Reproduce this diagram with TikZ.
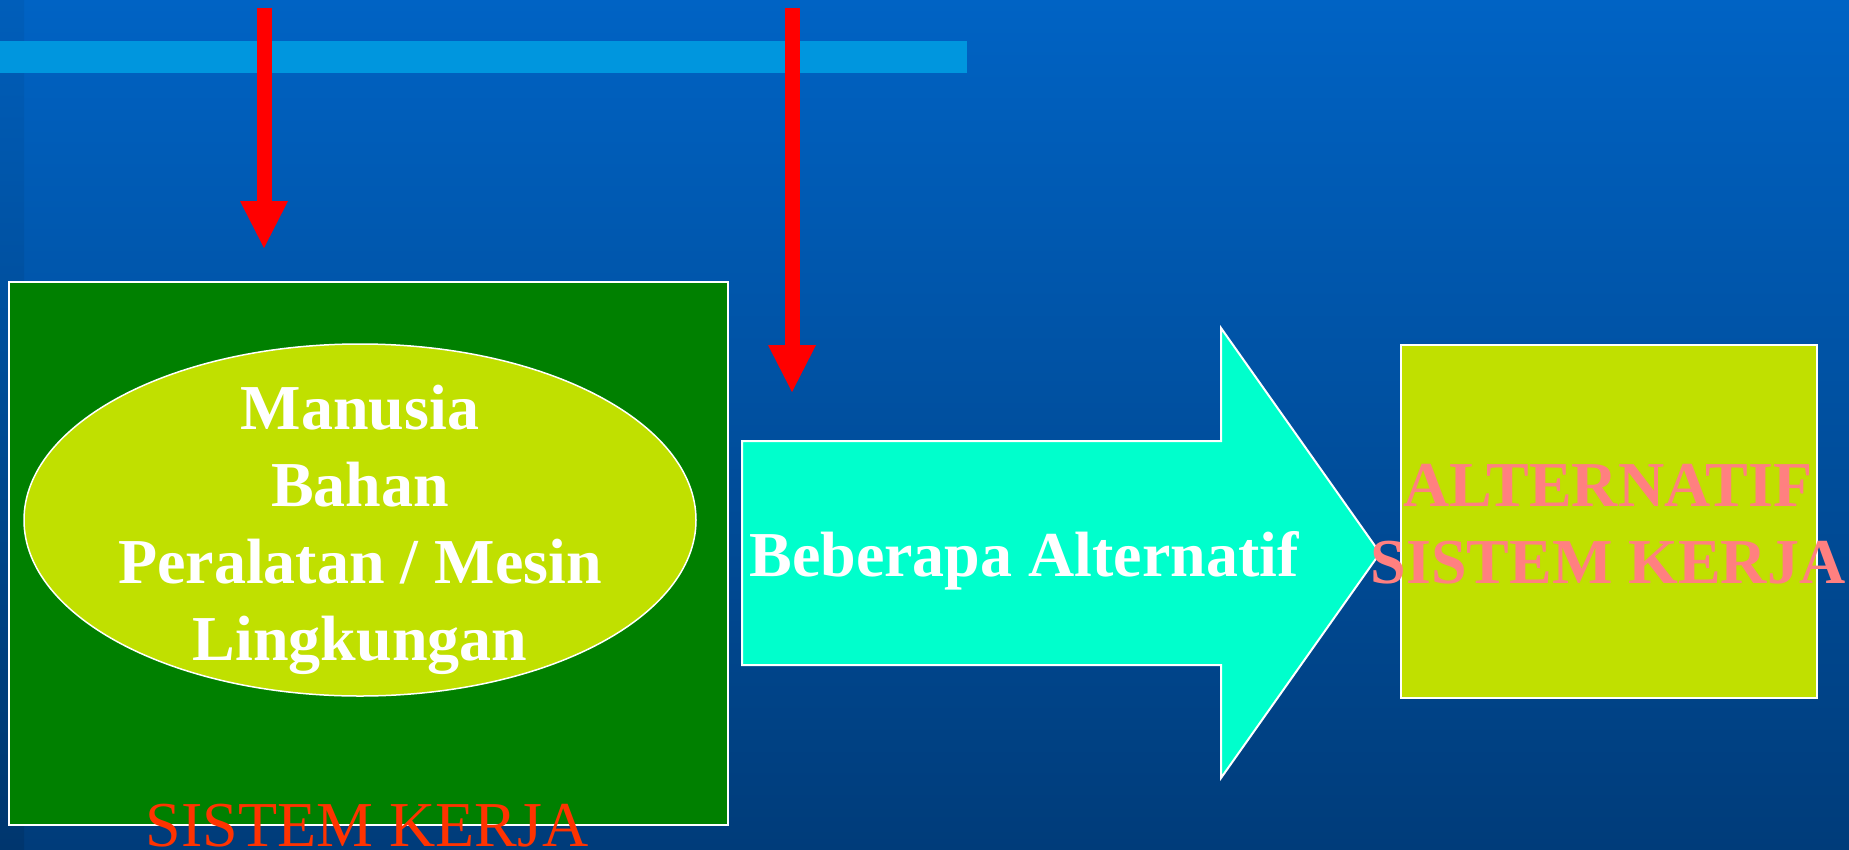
\documentclass[tikz,border=0pt]{standalone}
\usepackage{fontspec}
\setmainfont{Liberation Serif}
\usetikzlibrary{arrows.meta,shapes.geometric}
\definecolor{bgtop}{RGB}{0,99,196}
\definecolor{bgbot}{RGB}{0,60,122}
\definecolor{stripetop}{RGB}{0,94,186}
\definecolor{stripebot}{RGB}{0,54,110}
\definecolor{bandblue}{RGB}{0,150,222}
\definecolor{sysgreen}{RGB}{0,128,0}
\definecolor{limefill}{RGB}{192,224,0}
\definecolor{cyanfill}{RGB}{0,255,204}
\definecolor{pinktext}{RGB}{255,128,128}
\definecolor{redtext}{RGB}{255,51,0}
\definecolor{arrowred}{RGB}{255,0,0}
\tikzset{
  bigfont/.style={font=\fontsize{64}{77}\selectfont\bfseries},
  plainfont/.style={font=\fontsize{64}{77}\selectfont},
  whiteedge/.style={draw=white, line width=2pt},
  redarrow/.style={draw=arrowred, line width=15pt,
    -{Triangle[width=48pt,length=47pt,line width=0pt]}},
}
\begin{document}
\begin{tikzpicture}[x=1pt,y=-1pt]
\useasboundingbox (0,0) rectangle (1849,849);
% background
\shade[top color=bgtop,bottom color=bgbot] (0,0) rectangle (1849,849);
\shade[top color=stripetop,bottom color=stripebot] (0,0) rectangle (24,849);
\fill[bandblue] (0,41) rectangle (967,73);

% left system box
\node[whiteedge, fill=sysgreen, minimum width=719pt, minimum height=543pt,
  inner sep=0pt, anchor=north west] (sys) at (8,281) {};
\node[ellipse, draw=white, line width=1.5pt, fill=limefill,
  minimum width=672pt, minimum height=352pt, inner sep=0pt] (elem) at (360,520) {};
\node[bigfont, text=white, align=center, inner sep=0pt] (elemtext) at (360,530)
  {Manusia\\Bahan\\Peralatan / Mesin\\Lingkungan};
\node[plainfont, text=redtext, anchor=base, inner sep=0pt] (syslabel) at (367,846) {SISTEM KERJA};

% big cyan arrow
\draw[whiteedge, fill=cyanfill, line join=miter]
  (742,441) -- (1221,441) -- (1221,328) -- (1380,553) -- (1221,778)
  -- (1221,665) -- (742,665) -- cycle;
\node[bigfont, text=white, anchor=base, inner sep=0pt] (alts) at (1024,576) {Beberapa Alternatif};

% right box
\node[whiteedge, fill=limefill, minimum width=416pt, minimum height=353pt,
  inner sep=0pt, anchor=north west] (alt) at (1400,344) {};
\node[bigfont, text=pinktext, align=center, inner sep=0pt] (alttext) at (1608,524)
  {ALTERNATIF\\SISTEM KERJA};

% red arrows
\coordinate (la1) at (264,8);
\coordinate (la2) at (264,248);
\coordinate (ra1) at (792,8);
\coordinate (ra2) at (792,392);
\draw[redarrow] (la1) -- (la2);
\draw[redarrow] (ra1) -- (ra2);
\end{tikzpicture}
\end{document}
